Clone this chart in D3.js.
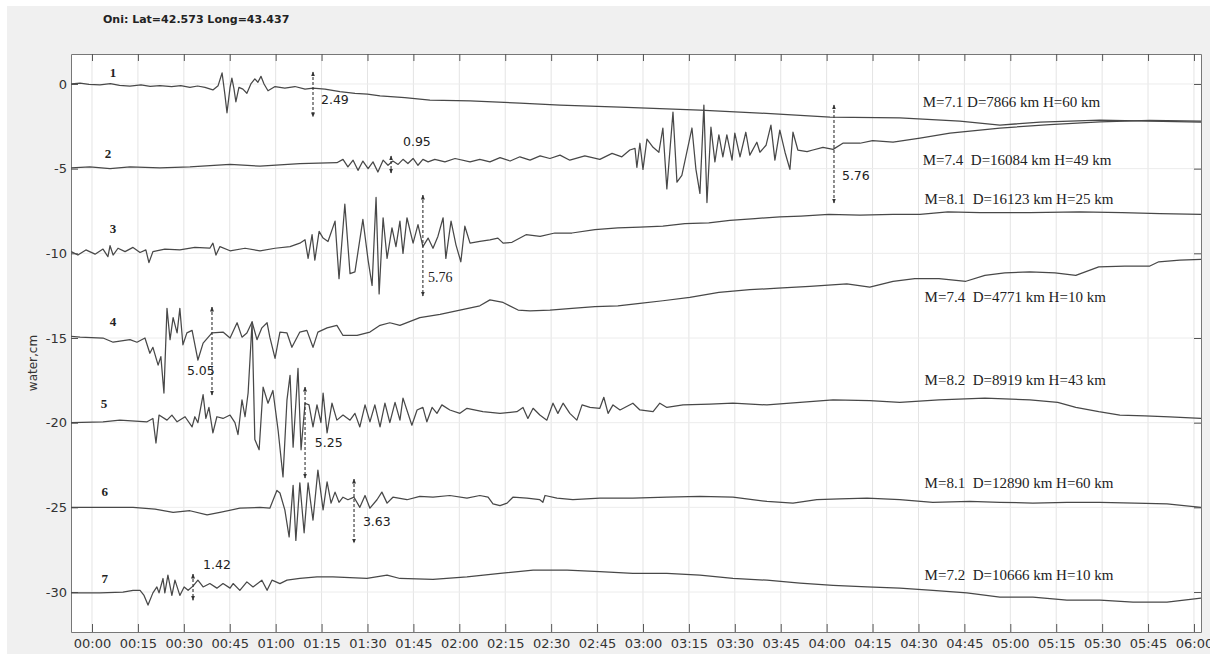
<!DOCTYPE html>
<html>
<head>
<meta charset="utf-8">
<script src="https://cdn.jsdelivr.net/npm/d3@7"></script>
<style>
  html, body { margin: 0; padding: 0; background: #fff; }
  svg { display: block; }
</style>
</head>
<body>
<div id="chart"></div>
<script>
// time in minutes after 00:00, water level in cm (each trace shifted by -5 cm)
const trace1 = [
  [-6.8, 0.0], [-3.9, 0.05], [-1.0, -0.02], [2.6, -0.05], [6.0, 0.02], [9.0, -0.08], [12.4, -0.12], [16.0, -0.05],
  [19.0, -0.14], [22.2, -0.1], [26.0, -0.16], [29.0, -0.1], [32.0, -0.2], [34.5, -0.12], [36.9, -0.2], [39.5, -0.35],
  [41.2, -0.1], [42.5, 0.65], [43.4, -0.6], [44.1, -1.7], [45.1, -0.2], [45.7, 0.35], [46.4, -0.3],
  [47.0, -1.05], [48.0, -0.2], [49.3, -0.3], [50.6, -0.55], [51.9, 0.0], [53.2, 0.3], [54.2, 0.1],
  [55.2, 0.45], [56.2, 0.0], [57.5, -0.4], [59.8, -0.15], [63.0, -0.25], [66.3, -0.15], [69.6, -0.3],
  [72.2, -0.25], [76.1, -0.3], [81.0, -0.45], [85.9, -0.55], [90.0, -0.6], [94.1, -0.7], [102.2, -0.8],
  [110.4, -0.95], [123.5, -1.0], [139.8, -1.13], [152.9, -1.25], [172.5, -1.36], [198.6, -1.55],
  [218.2, -1.72], [241.1, -1.96], [263.9, -2.0], [283.5, -2.2], [296.6, -2.43], [309.7, -2.25],
  [329.3, -2.13], [345.6, -2.2], [362.3, -2.25]
]
const trace2 = [
  [-6.8, -4.95], [-0.7, -4.9], [5.9, -5.0], [12.4, -4.9], [22.2, -4.95], [32.0, -4.9], [45.1, -4.75],
  [54.9, -4.85], [67.9, -4.7], [80.0, -4.65], [82.0, -4.45], [83.6, -4.9], [85.3, -4.5], [86.9, -5.1],
  [88.5, -4.55], [90.2, -5.0], [91.8, -4.6], [93.4, -5.2], [95.1, -4.5], [96.7, -4.8], [98.3, -4.55],
  [100.0, -4.75], [101.6, -4.45], [103.2, -4.7], [104.9, -4.4], [106.5, -4.8], [108.1, -4.45],
  [109.8, -4.6], [112.0, -4.45], [115.3, -4.6], [118.6, -4.4], [123.5, -4.6], [126.7, -4.45],
  [130.0, -4.6], [133.3, -4.35], [136.6, -4.55], [139.8, -4.3], [143.1, -4.5], [146.4, -4.25],
  [149.6, -4.4], [152.9, -4.2], [156.1, -4.5], [161.0, -4.25], [165.9, -4.45], [169.9, -4.1],
  [173.1, -4.3], [175.7, -3.9], [177.4, -3.8], [178.0, -4.92], [179.0, -3.5], [180.0, -5.04],
  [181.3, -3.26], [183.3, -3.74], [185.2, -4.03], [186.5, -2.6], [187.8, -6.2], [189.8, -1.66],
  [191.1, -5.8], [192.7, -5.4], [196.0, -2.6], [197.3, -5.04], [198.6, -6.46], [199.9, -1.25],
  [200.9, -7.0], [202.2, -2.55], [203.5, -4.6], [204.8, -3.0], [206.1, -4.3], [207.4, -3.0],
  [209.1, -4.5], [210.0, -2.9], [211.7, -4.3], [213.6, -2.85], [214.9, -4.2], [217.2, -3.44],
  [218.2, -4.03], [220.2, -3.62], [221.8, -2.43], [223.1, -4.5], [224.7, -2.73], [226.4, -4.03],
  [228.0, -5.04], [229.0, -2.85], [230.6, -3.9], [233.6, -4.0], [235.5, -3.9], [238.8, -3.74],
  [242.1, -3.86], [245.3, -3.5], [250.9, -3.5], [255.0, -3.35], [261.7, -3.44], [270.5, -3.2],
  [280.3, -2.9], [296.6, -2.6], [312.9, -2.4], [329.3, -2.24], [345.6, -2.15], [362.3, -2.2]
]
const trace3 = [
  [-6.8, -9.9], [-4.6, -10.1], [-2.0, -9.8], [1.0, -10.05], [3.6, -9.75], [5.2, -10.2], [5.9, -9.55],
  [6.9, -10.1], [8.5, -9.7], [10.8, -9.9], [13.4, -9.65], [15.7, -9.95], [17.6, -9.8], [18.6, -10.55],
  [19.9, -9.9], [23.8, -9.75], [28.7, -9.8], [33.6, -9.65], [38.5, -9.7], [39.5, -9.4], [40.5, -10.1],
  [41.8, -9.6], [45.1, -9.85], [50.0, -9.7], [54.9, -9.85], [59.8, -9.7], [64.7, -9.6], [67.9, -9.4],
  [69.6, -9.2], [70.6, -10.3], [71.9, -8.9], [72.8, -10.4], [74.2, -8.7], [75.5, -9.1], [77.1, -9.3],
  [79.4, -8.1], [80.7, -11.5], [82.6, -7.1], [84.3, -11.2], [85.9, -11.1], [88.5, -8.0], [90.2, -10.4],
  [91.5, -11.9], [92.8, -6.7], [93.8, -12.4], [95.1, -7.9], [96.4, -10.3], [98.0, -8.5], [99.3, -9.6],
  [100.6, -8.1], [101.6, -10.0], [102.9, -7.9], [104.9, -9.4], [106.5, -8.3], [108.1, -9.6],
  [109.8, -9.1], [111.4, -9.7], [113.0, -9.0], [114.7, -7.9], [115.6, -10.3], [117.3, -8.1],
  [118.9, -9.5], [120.5, -10.5], [121.8, -8.4], [123.5, -9.4], [126.7, -9.3], [130.0, -9.2],
  [132.6, -9.1], [134.3, -9.4], [137.2, -9.35], [141.8, -8.9], [146.4, -9.0], [151.2, -8.8],
  [156.8, -8.8], [164.3, -8.6], [171.8, -8.5], [179.0, -8.45], [186.5, -8.4], [193.7, -8.25],
  [201.5, -8.2], [208.4, -8.05], [216.6, -7.95], [224.7, -7.85], [231.6, -7.8], [240.7, -7.7],
  [250.9, -7.75], [261.7, -7.7], [270.5, -7.7], [279.6, -7.55], [290.1, -7.6], [306.4, -7.6],
  [322.7, -7.55], [336.5, -7.6], [348.9, -7.65], [362.3, -7.7]
]
const trace4 = [
  [-6.8, -14.9], [-3.9, -14.95], [3.6, -15.0], [6.9, -15.25], [12.4, -15.1], [14.7, -15.25],
  [17.3, -15.0], [18.9, -15.9], [19.9, -15.55], [21.6, -16.6], [22.5, -16.1], [23.5, -18.25],
  [24.5, -13.25], [25.5, -15.1], [26.5, -13.8], [27.8, -14.7], [28.7, -13.25], [29.7, -15.4],
  [31.0, -14.7], [32.7, -14.55], [34.6, -16.3], [36.3, -15.3], [39.2, -14.7], [42.8, -14.65],
  [45.1, -15.0], [47.4, -14.1], [49.0, -14.95], [50.6, -14.7], [52.3, -14.05], [53.9, -15.1],
  [55.5, -14.4], [57.2, -14.1], [58.1, -14.95], [59.8, -16.2], [61.4, -14.65], [63.7, -14.7],
  [65.3, -15.55], [67.9, -14.65], [70.2, -14.55], [72.2, -15.55], [73.8, -14.65], [76.8, -14.4],
  [80.0, -14.25], [82.0, -14.85], [86.6, -14.85], [90.8, -14.65], [94.1, -14.25], [97.3, -14.1],
  [100.6, -14.25], [107.1, -13.8], [113.7, -13.6], [120.2, -13.35], [126.7, -13.1], [130.0, -12.75],
  [134.3, -12.9], [139.2, -13.35], [143.1, -13.4], [149.6, -13.35], [156.8, -13.25], [164.3, -13.15],
  [171.8, -13.1], [179.0, -12.95], [186.5, -12.8], [195.3, -12.6], [204.8, -12.3], [214.9, -12.15],
  [224.1, -12.05], [234.5, -11.95], [246.6, -11.8], [254.1, -12.0], [261.7, -11.65], [268.8, -11.5],
  [276.7, -11.5], [285.5, -11.65], [291.7, -11.3], [298.2, -11.15], [306.4, -11.1], [314.6, -11.15],
  [321.4, -11.3], [328.9, -10.8], [337.4, -10.75], [345.6, -10.75], [348.5, -10.5], [355.4, -10.4],
  [362.3, -10.35]
]
const trace5 = [
  [-6.8, -20.0], [3.6, -19.95], [9.1, -19.85], [18.0, -19.95], [19.9, -19.75], [20.9, -21.2],
  [21.9, -19.55], [24.5, -19.85], [26.1, -19.55], [27.8, -19.95], [30.4, -19.65], [32.7, -20.25],
  [33.6, -19.65], [34.6, -20.0], [36.3, -18.35], [37.2, -19.75], [38.2, -19.1], [39.5, -20.6],
  [40.8, -19.65], [42.8, -19.75], [45.1, -19.55], [46.7, -20.0], [47.7, -20.7], [49.0, -18.65],
  [50.0, -19.65], [51.0, -18.25], [52.3, -14.05], [53.2, -21.0], [54.6, -21.6], [55.9, -17.9],
  [57.5, -18.85], [59.1, -18.1], [60.8, -20.45], [62.4, -23.2], [63.7, -18.65], [64.7, -17.2],
  [65.7, -21.45], [67.3, -16.8], [68.3, -21.6], [69.6, -18.85], [70.9, -18.95], [72.2, -20.25],
  [73.5, -18.95], [74.8, -20.0], [75.5, -18.25], [76.8, -20.6], [78.4, -18.85], [80.0, -19.85],
  [82.0, -19.55], [84.3, -19.85], [85.9, -19.45], [87.5, -20.25], [89.2, -18.95], [90.8, -19.95],
  [92.4, -18.95], [94.1, -20.25], [95.7, -18.85], [97.3, -20.0], [99.0, -18.8], [100.6, -19.85],
  [101.6, -18.55], [104.5, -20.15], [106.2, -19.25], [108.1, -19.1], [109.4, -19.95], [111.1, -19.1],
  [112.7, -19.45], [114.3, -18.95], [116.9, -19.25], [120.2, -19.45], [122.5, -19.15], [127.7, -19.35],
  [133.3, -19.45], [138.8, -19.35], [140.8, -19.1], [142.4, -19.75], [144.1, -19.15], [146.3, -19.55],
  [148.6, -19.85], [150.6, -18.85], [152.2, -19.45], [153.9, -18.85], [156.1, -19.45], [158.4, -19.85],
  [160.1, -18.95], [162.7, -19.1], [165.9, -19.15], [167.2, -18.5], [168.6, -19.45], [170.2, -18.95],
  [172.5, -19.25], [176.7, -18.85], [179.0, -19.25], [183.3, -19.35], [185.5, -18.85], [187.8, -19.1],
  [193.1, -18.95], [201.9, -18.9], [209.4, -18.85], [220.5, -18.95], [231.3, -18.8], [242.1, -18.65],
  [254.1, -18.7], [263.9, -18.8], [276.7, -18.65], [291.7, -18.55], [306.4, -18.65], [315.5, -18.8],
  [321.4, -19.1], [328.9, -19.35], [335.8, -19.55], [344.0, -19.6], [352.1, -19.65], [362.3, -19.75]
]
const trace6 = [
  [-6.8, -25.0], [2.6, -25.0], [13.4, -25.0], [20.6, -25.1], [26.5, -25.3], [32.0, -25.2],
  [37.6, -25.45], [41.8, -25.3], [48.3, -25.05], [54.9, -25.0], [58.1, -25.05], [60.4, -24.0],
  [61.4, -24.15], [63.0, -25.15], [64.4, -26.75], [65.7, -23.7], [66.6, -26.95], [67.9, -23.55],
  [69.3, -26.5], [70.6, -23.55], [72.2, -25.75], [73.8, -22.8], [75.5, -25.15], [76.8, -23.5],
  [78.1, -24.75], [79.4, -24.1], [80.7, -24.7], [82.0, -24.4], [83.6, -24.55], [85.6, -24.4],
  [87.5, -25.0], [89.2, -24.3], [90.8, -25.05], [93.1, -24.55], [94.7, -24.1], [96.4, -24.75],
  [98.3, -24.4], [102.9, -24.55], [107.1, -24.35], [111.4, -24.4], [116.9, -24.3], [122.5, -24.45],
  [126.7, -24.3], [129.4, -24.4], [131.0, -24.8], [133.3, -24.9], [135.6, -24.75], [137.5, -24.4],
  [142.1, -24.45], [146.3, -24.55], [147.3, -24.7], [148.0, -24.3], [151.9, -24.45], [157.1, -24.55],
  [165.9, -24.45], [176.7, -24.45], [187.8, -24.4], [198.6, -24.35], [209.4, -24.4], [220.5, -24.65],
  [229.0, -24.75], [236.8, -24.55], [244.3, -24.5], [253.2, -24.45], [263.9, -24.55], [274.7, -24.7],
  [286.8, -24.65], [296.6, -24.7], [307.4, -24.75], [318.5, -24.7], [329.3, -24.7], [340.7, -24.75],
  [351.2, -24.8], [362.3, -25.0]
]
const trace7 = [
  [-6.8, -30.05], [2.6, -30.05], [10.1, -30.0], [13.4, -29.9], [15.7, -29.9], [17.0, -30.2],
  [18.3, -30.77], [19.9, -30.05], [21.2, -29.7], [21.9, -30.05], [23.2, -29.2], [23.8, -30.05],
  [24.8, -29.0], [26.1, -30.2], [27.1, -29.3], [28.7, -30.2], [30.1, -29.7], [31.4, -29.9],
  [33.0, -29.65], [34.6, -29.3], [36.3, -29.7], [38.5, -29.5], [40.8, -29.77], [42.8, -29.5],
  [45.1, -29.77], [46.1, -29.5], [48.3, -29.9], [50.6, -29.4], [52.6, -29.7], [55.5, -29.3],
  [57.2, -29.9], [58.8, -29.3], [61.4, -29.5], [63.7, -29.3], [67.9, -29.2], [73.5, -29.1],
  [78.7, -29.1], [89.8, -29.2], [96.4, -29.0], [100.6, -29.2], [111.4, -29.25], [122.5, -29.1],
  [133.3, -28.9], [144.1, -28.7], [155.2, -28.7], [165.9, -28.8], [176.7, -28.9], [187.8, -28.9],
  [198.6, -29.0], [209.4, -29.2], [220.5, -29.3], [231.3, -29.47], [242.1, -29.6], [253.2, -29.7],
  [263.9, -29.77], [274.7, -29.9], [285.8, -30.05], [296.6, -30.3], [307.4, -30.3], [318.5, -30.48],
  [329.3, -30.48], [340.1, -30.6], [351.2, -30.6], [362.3, -30.36]
]
const traces = [trace1, trace2, trace3, trace4, trace5, trace6, trace7]
const traceNames = ['1', '2', '3', '4', '5', '6', '7']
const eventLabels = [
  'M=7.1 D=7866 km H=60 km',
  'M=7.4  D=16084 km H=49 km',
  'M=8.1  D=16123 km H=25 km',
  'M=7.4  D=4771 km H=10 km',
  'M=8.2  D=8919 km H=43 km',
  'M=8.1  D=12890 km H=60 km',
  'M=7.2  D=10666 km H=10 km'
]

// amplitude markers: time, top, bottom, label
const markerTime = [72.2, 97.7, 242.4, 108.1, 39.2, 69.6, 85.6, 33.0]
const markerTop = [0.71, -4.25, -1.24, -6.56, -13.17, -17.9, -23.33, -28.94]
const markerBottom = [-1.95, -5.26, -7.03, -12.52, -18.37, -23.27, -27.11, -30.48]
const markerLabels = ['2.49', '0.95', '5.76', '5.76', '5.05', '5.25', '3.63', '1.42']

const xTickMinutes = [0, 15, 30, 45, 60, 75, 90, 105, 120, 135, 150, 165, 180, 195, 210, 225, 240, 255, 270, 285, 300, 315, 330, 345, 360]
const yTickValues = [0, -5, -10, -15, -20, -25, -30]

// ---- layout ----
const fullWidth = 1210
const fullHeight = 654
const margin = { top: 54, right: 9, bottom: 22, left: 71 }
const width = fullWidth - margin.left - margin.right
const height = fullHeight - margin.top - margin.bottom

// label placement (minutes / cm)
const nameAnchor = [[6.9, 0.71], [5.2, -4.13], [6.9, -8.56], [6.9, -14.0], [3.9, -18.84], [4.2, -24.04], [4.2, -29.18]]
const eventAnchor = [[271.4, -1.06], [271.4, -4.49], [272.0, -6.79], [272.0, -12.58], [272.0, -17.48], [272.0, -23.57], [272.0, -29.0]]
const markerLabelAnchor = [[74.8, -0.9], [101.6, -3.43], [245.0, -5.43], [109.8, -11.4], [31.0, -16.9], [72.8, -21.15], [88.5, -25.87], [36.3, -28.41]]

const x = d3.scaleLinear().domain([-6.86, 362.3]).range([0, width])
const y = d3.scaleLinear().domain([1.77, -32.36]).range([0, height])

const fmtTime = m => String(Math.floor(m / 60)).padStart(2, '0') + ':' + String(m % 60).padStart(2, '0')

const svg = d3.select('#chart')
  .append('svg')
    .attr('width', fullWidth)
    .attr('height', fullHeight)

// figure background
svg.append('rect').attr('width', fullWidth).attr('height', fullHeight).attr('fill', '#fff')
svg.append('rect').attr('x', 7).attr('y', 6).attr('width', fullWidth - 7).attr('height', fullHeight - 6).attr('fill', '#f0f0f0')

svg.append('text')
  .attr('x', 103)
  .attr('y', 23)
  .attr('font-family', 'DejaVu Sans, sans-serif')
  .attr('font-weight', 'bold')
  .attr('font-size', 11)
  .attr('fill', '#222')
  .text('Oni: Lat=42.573 Long=43.437')

svg.append('text')
  .attr('transform', `translate(37, ${margin.top + height / 2 + 20}) rotate(-90)`)
  .attr('text-anchor', 'middle')
  .attr('font-family', 'DejaVu Sans, sans-serif')
  .attr('font-size', 12)
  .attr('fill', '#333')
  .text('water,cm')

const g = svg.append('g')
  .attr('transform', `translate(${margin.left}, ${margin.top})`)

g.append('rect').attr('width', width).attr('height', height).attr('fill', '#fff')

// grid
g.selectAll('.vgrid')
  .data(xTickMinutes)
  .enter()
    .append('line')
    .attr('x1', d => x(d)).attr('x2', d => x(d))
    .attr('y1', 0).attr('y2', height)
    .attr('stroke', '#e4e4e4')
g.selectAll('.hgrid')
  .data(yTickValues)
  .enter()
    .append('line')
    .attr('x1', 0).attr('x2', width)
    .attr('y1', d => y(d)).attr('y2', d => y(d))
    .attr('stroke', '#ececec')

// axes, ticks pointing inward as in matlab
const styleAxis = sel => {
  sel.select('.domain').attr('stroke', '#777')
  sel.selectAll('.tick line').attr('stroke', '#555')
  sel.selectAll('text')
    .attr('font-family', 'DejaVu Sans, sans-serif')
    .attr('font-size', 13)
    .attr('fill', '#333')
}

g.append('g')
  .attr('transform', `translate(0, ${height})`)
  .call(d3.axisBottom(x).tickValues(xTickMinutes).tickFormat(fmtTime).tickSizeInner(-8).tickSizeOuter(0).tickPadding(7))
  .call(styleAxis)
g.append('g')
  .call(d3.axisTop(x).tickValues(xTickMinutes).tickFormat('').tickSizeInner(-7).tickSizeOuter(0))
  .call(styleAxis)
g.append('g')
  .call(d3.axisLeft(y).tickValues(yTickValues).tickFormat(d => String(d)).tickSizeInner(-7).tickSizeOuter(0).tickPadding(4))
  .call(styleAxis)
g.append('g')
  .attr('transform', `translate(${width}, 0)`)
  .call(d3.axisRight(y).tickValues(yTickValues).tickFormat('').tickSizeInner(-7).tickSizeOuter(0))
  .call(styleAxis)

// traces
const line = d3.line()
  .x(d => x(d[0]))
  .y(d => y(d[1]))

const clip = g.append('clipPath').attr('id', 'plotclip')
clip.append('rect').attr('width', width).attr('height', height)

g.append('g')
  .attr('clip-path', 'url(#plotclip)')
  .selectAll('path')
  .data(traces)
  .enter()
    .append('path')
    .attr('d', line)
    .attr('fill', 'none')
    .attr('stroke', '#484848')
    .attr('stroke-width', 1.25)
    .attr('stroke-linejoin', 'round')

// trace numbers
g.selectAll('.name')
  .data(traceNames)
  .enter()
    .append('text')
    .attr('x', (d, i) => x(nameAnchor[i][0]))
    .attr('y', (d, i) => y(nameAnchor[i][1]))
    .attr('dy', '0.35em')
    .attr('text-anchor', 'middle')
    .attr('font-family', 'Liberation Serif, serif')
    .attr('font-weight', 'bold')
    .attr('font-size', 13)
    .attr('fill', '#222')
    .text(d => d)

// event descriptions
g.selectAll('.event')
  .data(eventLabels)
  .enter()
    .append('text')
    .attr('x', (d, i) => x(eventAnchor[i][0]))
    .attr('y', (d, i) => y(eventAnchor[i][1]))
    .attr('dy', '0.35em')
    .style('white-space', 'pre')
    .attr('font-family', 'Liberation Serif, serif')
    .attr('font-size', 15)
    .attr('fill', '#222')
    .text(d => d)

// amplitude markers
const defs = svg.append('defs')
defs.append('marker')
  .attr('id', 'arr')
  .attr('viewBox', '0 0 10 10')
  .attr('refX', 9).attr('refY', 5)
  .attr('markerWidth', 5).attr('markerHeight', 5)
  .attr('markerUnits', 'userSpaceOnUse')
  .attr('orient', 'auto-start-reverse')
  .append('path')
    .attr('d', 'M0,1 L10,5 L0,9 z')
    .attr('fill', '#333')

g.selectAll('.marker')
  .data(markerTime)
  .enter()
    .append('line')
    .attr('x1', d => x(d)).attr('x2', d => x(d))
    .attr('y1', (d, i) => y(markerTop[i]))
    .attr('y2', (d, i) => y(markerBottom[i]))
    .attr('stroke', '#333')
    .attr('stroke-width', 1.1)
    .attr('stroke-dasharray', '3,2')
    .attr('marker-start', 'url(#arr)')
    .attr('marker-end', 'url(#arr)')

g.selectAll('.mlabel')
  .data(markerLabels)
  .enter()
    .append('text')
    .attr('x', (d, i) => x(markerLabelAnchor[i][0]))
    .attr('y', (d, i) => y(markerLabelAnchor[i][1]))
    .attr('dy', '0.35em')
    .attr('font-family', (d, i) => i === 3 ? 'Liberation Serif, serif' : 'DejaVu Sans, sans-serif')
    .attr('font-size', (d, i) => i === 3 ? 14 : 12.5)
    .attr('fill', '#222')
    .text(d => d)
</script>
</body>
</html>
